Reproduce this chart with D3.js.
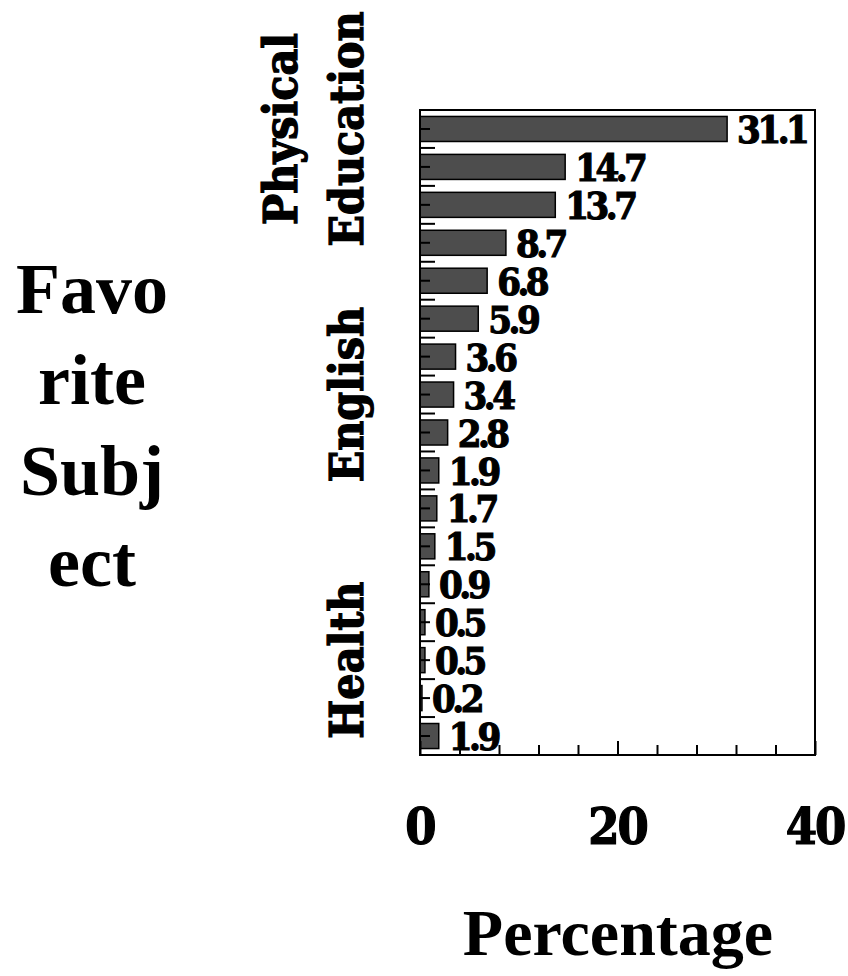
<!DOCTYPE html>
<html>
<head>
<meta charset="utf-8">
<script src="https://cdn.jsdelivr.net/npm/d3@7/dist/d3.min.js"></script>
<style>
html,body{margin:0;padding:0;background:#fff;}
</style>
</head>
<body>
<svg id="chart" width="848" height="976"></svg>
<script>
const categories = ["Physical Education","Math","Science","Art","History","Music","Computer","English","Social Studies","Reading","Spanish","Drama","French","Writing","Health","Geography","Other"];
const values = [31.1,14.7,13.7,8.7,6.8,5.9,3.6,3.4,2.8,1.9,1.7,1.5,0.9,0.5,0.5,0.2,1.9];
const shownCategories = ["Physical Education","English","Health"];
const xTickLabels = [0,20,40];
const xMinorTicks = [0,4,8,12,16,20,24,28,32,36,40];
const xTitle = "Percentage";
const yTitleLines = ["Favo","rite","Subj","ect"];

const svg = d3.select("#chart");
const L = 420, R = 815, T = 110, B = 755;
const x = d3.scaleLinear().domain([0,40]).range([L,R]);
const y = d3.scaleBand().domain(categories).range([T,B]).paddingInner(0.34).paddingOuter(0.17);
const step = y.step();
const numFont = "'DejaVu Serif Condensed','DejaVu Serif',serif";

// bars
svg.append("g").selectAll("rect").data(values).join("rect")
  .attr("x", x(0)).attr("y", (d,i)=>y(categories[i]))
  .attr("width", d=>x(d)-x(0)).attr("height", y.bandwidth())
  .attr("fill","#4d4d4d").attr("stroke","#000").attr("stroke-width",1.5);

// value labels
svg.append("g").selectAll("text").data(values).join("text")
  .attr("x", d=>x(d)+10).attr("y",(d,i)=>y(categories[i])+y.bandwidth()/2)
  .attr("dy","0.37em")
  .attr("font-family",numFont).attr("font-weight","bold").attr("font-size",38)
  .attr("letter-spacing",-3.5)
  .attr("stroke","#000").attr("stroke-width",1.1)
  .text(d=>d.toFixed(1));

// frame
svg.append("rect").attr("x",L).attr("y",T).attr("width",R-L).attr("height",B-T)
  .attr("fill","none").attr("stroke","#000").attr("stroke-width",2);

// y ticks: centers (short), boundaries (long)
const gy = svg.append("g").attr("transform",`translate(${L},0)`)
  .call(d3.axisRight(y).tickSize(10).tickFormat(""));
gy.select(".domain").remove();
gy.selectAll("line").attr("stroke","#000").attr("stroke-width",2);
const boundaries = d3.range(categories.length+1).map(i=>T + i*step);
svg.append("g").selectAll("line").data(boundaries).join("line")
  .attr("x1",L).attr("x2",L+15).attr("y1",d=>d).attr("y2",d=>d)
  .attr("stroke","#000").attr("stroke-width",2);

// x ticks
const gx = svg.append("g").attr("transform",`translate(0,${B})`)
  .call(d3.axisTop(x).tickValues(xMinorTicks).tickSize(10).tickFormat(""));
gx.select(".domain").remove();
gx.selectAll("line").attr("stroke","#000").attr("stroke-width",2);
gx.selectAll(".tick").filter(d=>xTickLabels.includes(d)).select("line").attr("y2",-14);

// x tick labels
svg.append("g").selectAll("text").data(xTickLabels).join("text")
  .attr("x",d=>x(d)).attr("y",844).attr("text-anchor","middle")
  .attr("font-family",numFont).attr("font-weight","bold").attr("font-size",50)
  .attr("letter-spacing",-2)
  .attr("stroke","#000").attr("stroke-width",1.2)
  .text(d=>d);

// y category labels (rotated)
const labelG = svg.append("g");
shownCategories.forEach(c=>{
  const cy = y(c)+y.bandwidth()/2;
  const words = c.split(" ");
  const t = labelG.append("text")
    .attr("transform",`translate(363,${cy}) rotate(-90)`)
    .attr("text-anchor","middle")
    .attr("font-family",numFont).attr("font-weight","bold").attr("font-size",46)
    .attr("stroke","#000").attr("stroke-width",1.2);
  words.forEach((w,i)=>{
    t.append("tspan").attr("x",0).attr("y",(i-(words.length-1))*66).text(w);
  });
});

// axis titles
svg.append("text").attr("x",618).attr("y",955).attr("text-anchor","middle")
  .attr("font-family","'Liberation Serif','Times New Roman',serif").attr("font-weight","bold")
  .attr("font-size",66).text(xTitle);
const yt = svg.append("text").attr("text-anchor","middle")
  .attr("font-family","'Liberation Serif','Times New Roman',serif").attr("font-weight","bold")
  .attr("font-size",72);
yTitleLines.forEach((l,i)=>{
  yt.append("tspan").attr("x",92).attr("y",313+i*91).text(l);
});
</script>
</body>
</html>
